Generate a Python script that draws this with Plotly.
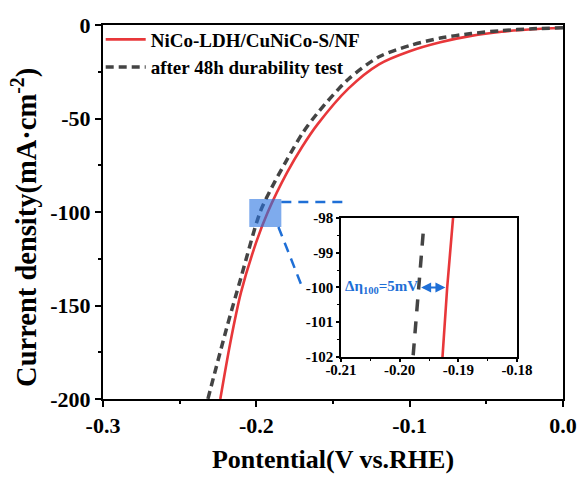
import plotly.graph_objects as go

# ---------------- data ----------------
pot_fresh = [0.0, -0.02, -0.04, -0.06, -0.08, -0.10, -0.12, -0.14, -0.16, -0.17,
             -0.18, -0.1925, -0.20, -0.21, -0.217, -0.2235]
cur_fresh = [-1.5, -2.3, -3.6, -5.8, -9.2, -14.0, -21.0, -34.0, -53.0, -65.0,
             -79.0, -100.0, -116.0, -143.0, -170.0, -200.0]

pot_after = [0.0, -0.02, -0.04, -0.06, -0.08, -0.10, -0.12, -0.14, -0.16, -0.17,
             -0.18, -0.19, -0.1975, -0.21, -0.22, -0.2316]
cur_after = [-1.5, -2.0, -3.0, -4.6, -7.0, -11.0, -17.0, -29.0, -47.0, -58.0,
             -72.0, -87.0, -100.0, -135.0, -164.0, -200.0]

# zoomed-in inset data (near -100 mA cm-2)
inset_pot_fresh = [-0.1927, -0.1919, -0.1909]
inset_cur_fresh = [-102.0, -100.0, -98.0]
inset_pot_after = [-0.1977, -0.1968, -0.1960]
inset_cur_after = [-101.95, -100.0, -98.45]

series_names = ["NiCo-LDH/CuNiCo-S/NF", "after 48h durability test"]
x_ticks = [-0.3, -0.2, -0.1, 0.0]
x_labels = ["-0.3", "-0.2", "-0.1", "0.0"]
y_ticks = [0, -50, -100, -150, -200]
y_labels = ["0", "-50", "-100", "-150", "-200"]
inset_x_ticks = [-0.21, -0.20, -0.19, -0.18]
inset_x_labels = ["-0.21", "-0.20", "-0.19", "-0.18"]
inset_y_ticks = [-98, -99, -100, -101, -102]
inset_y_labels = ["-98", "-99", "-100", "-101", "-102"]

# zoom window marked on the main plot
zoom_x = [-0.2046, -0.1837]
zoom_y = [-108, -93]

RED = "#e8373a"
GRAY = "#444444"
BLUE = "#1f6fd6"
FONT = "Liberation Serif"


def bold(labels):
    return ["<b>%s</b>" % s for s in labels]


fig = go.Figure()
fig.add_trace(go.Scatter(x=pot_fresh, y=cur_fresh, mode="lines", name="<b>%s</b>" % series_names[0],
                         line=dict(color=RED, width=2.6, shape="spline", smoothing=0.8)))
fig.add_trace(go.Scatter(x=pot_after, y=cur_after, mode="lines", name="<b>%s</b>" % series_names[1],
                         line=dict(color=GRAY, width=3.5, dash="8px,5px", shape="spline", smoothing=0.8)))

# inset traces
fig.add_trace(go.Scatter(x=inset_pot_fresh, y=inset_cur_fresh, mode="lines", showlegend=False,
                         line=dict(color=RED, width=2.6), xaxis="x2", yaxis="y2"))
fig.add_trace(go.Scatter(x=inset_pot_after, y=inset_cur_after, mode="lines", showlegend=False,
                         line=dict(color=GRAY, width=3.5, dash="12px,10px"), xaxis="x2", yaxis="y2"))

# zoom rectangle and connecting dashed lines
fig.add_shape(type="rect", x0=zoom_x[0], x1=zoom_x[1], y0=zoom_y[0], y1=zoom_y[1],
              xref="x", yref="y", fillcolor="rgba(40,115,225,0.6)", line=dict(width=0), layer="above")
fig.add_shape(type="line", x0=zoom_x[1], y0=-94.7, x1=-0.1431, y1=-94.7, xref="x", yref="y",
              line=dict(color=BLUE, width=2.5, dash="10px,7px"))
fig.add_shape(type="line", x0=-0.1856, y0=zoom_y[0], x1=-0.1699, y1=-140.6, xref="x", yref="y",
              line=dict(color=BLUE, width=2.5, dash="10px,7px"))

axis_common = dict(showline=True, linecolor="black", mirror=True, showgrid=False, zeroline=False,
                   ticks="outside", tickcolor="black")

fig.update_layout(
    width=581, height=477,
    margin=dict(l=103, r=18, t=25, b=78),
    paper_bgcolor="white", plot_bgcolor="white",
    font=dict(family=FONT, color="black"),
    showlegend=True,
    legend=dict(x=-0.005, y=1.012, xanchor="left", yanchor="top", bgcolor="rgba(0,0,0,0)",
                font=dict(family=FONT, size=19), tracegroupgap=0, itemwidth=40),
    xaxis=dict(**axis_common, range=[-0.3, 0.0], tickvals=x_ticks, ticktext=bold(x_labels),
               linewidth=2, ticklen=6, tickwidth=2,
               minor=dict(dtick=0.05, ticks="outside", ticklen=3, tickwidth=2, tickcolor="black"),
               tickfont=dict(family=FONT, size=22, weight="bold"),
               title=dict(text="<b>Pontential(V vs.RHE)</b>", font=dict(family=FONT, size=26), standoff=12),
               automargin=False),
    yaxis=dict(**axis_common, range=[-200, 0], tickvals=y_ticks, ticktext=bold(y_labels),
               linewidth=2, ticklen=6, tickwidth=2,
               minor=dict(dtick=25, ticks="outside", ticklen=3, tickwidth=2, tickcolor="black"),
               tickfont=dict(family=FONT, size=22, weight="bold"),
               automargin=False),
    xaxis2=dict(**axis_common, domain=[0.5174, 0.9], anchor="y2", range=[-0.21, -0.18],
                tickvals=inset_x_ticks, ticktext=bold(inset_x_labels), linewidth=1.5, ticklen=3, tickwidth=1.5,
                minor=dict(dtick=0.005, ticks="outside", ticklen=2, tickwidth=1, tickcolor="black"),
                tickfont=dict(family=FONT, size=15, weight="bold"), ticklabelstandoff=-5, automargin=False),
    yaxis2=dict(**axis_common, domain=[0.1123, 0.484], anchor="x2", range=[-102, -98],
                tickvals=inset_y_ticks, ticktext=bold(inset_y_labels), linewidth=1.5, ticklen=3, tickwidth=1.5,
                minor=dict(dtick=0.5, ticks="outside", ticklen=2, tickwidth=1, tickcolor="black"),
                tickfont=dict(family=FONT, size=15, weight="bold"), automargin=False),
)

# y-axis title (placed as rotated text so it can sit where the reference has it)
fig.add_annotation(x=-0.1696, y=0.46, xref="paper", yref="paper", textangle=-90,
                   text="<b>Current density(mA·cm<sup>-2</sup>)</b>", showarrow=False,
                   xanchor="center", yanchor="middle", font=dict(family=FONT, size=28.5))

# Δη annotation inside the inset
fig.add_annotation(x=-0.1966, y=-100, xref="x2", yref="y2", text="<b>Δη<sub>100</sub>=5mV</b>",
                   showarrow=False, xanchor="right", yanchor="middle",
                   font=dict(family=FONT, size=15, color=BLUE))
fig.add_annotation(x=-0.1922, y=-100, ax=-0.1966, ay=-100, xref="x2", yref="y2", axref="x2", ayref="y2",
                   text="", showarrow=True, arrowhead=2, arrowside="end+start", arrowsize=1,
                   arrowwidth=2, arrowcolor=BLUE, standoff=0, startstandoff=0)

fig.write_html("out.html", config={"displayModeBar": False},
               post_script="document.body.style.margin='0';")
